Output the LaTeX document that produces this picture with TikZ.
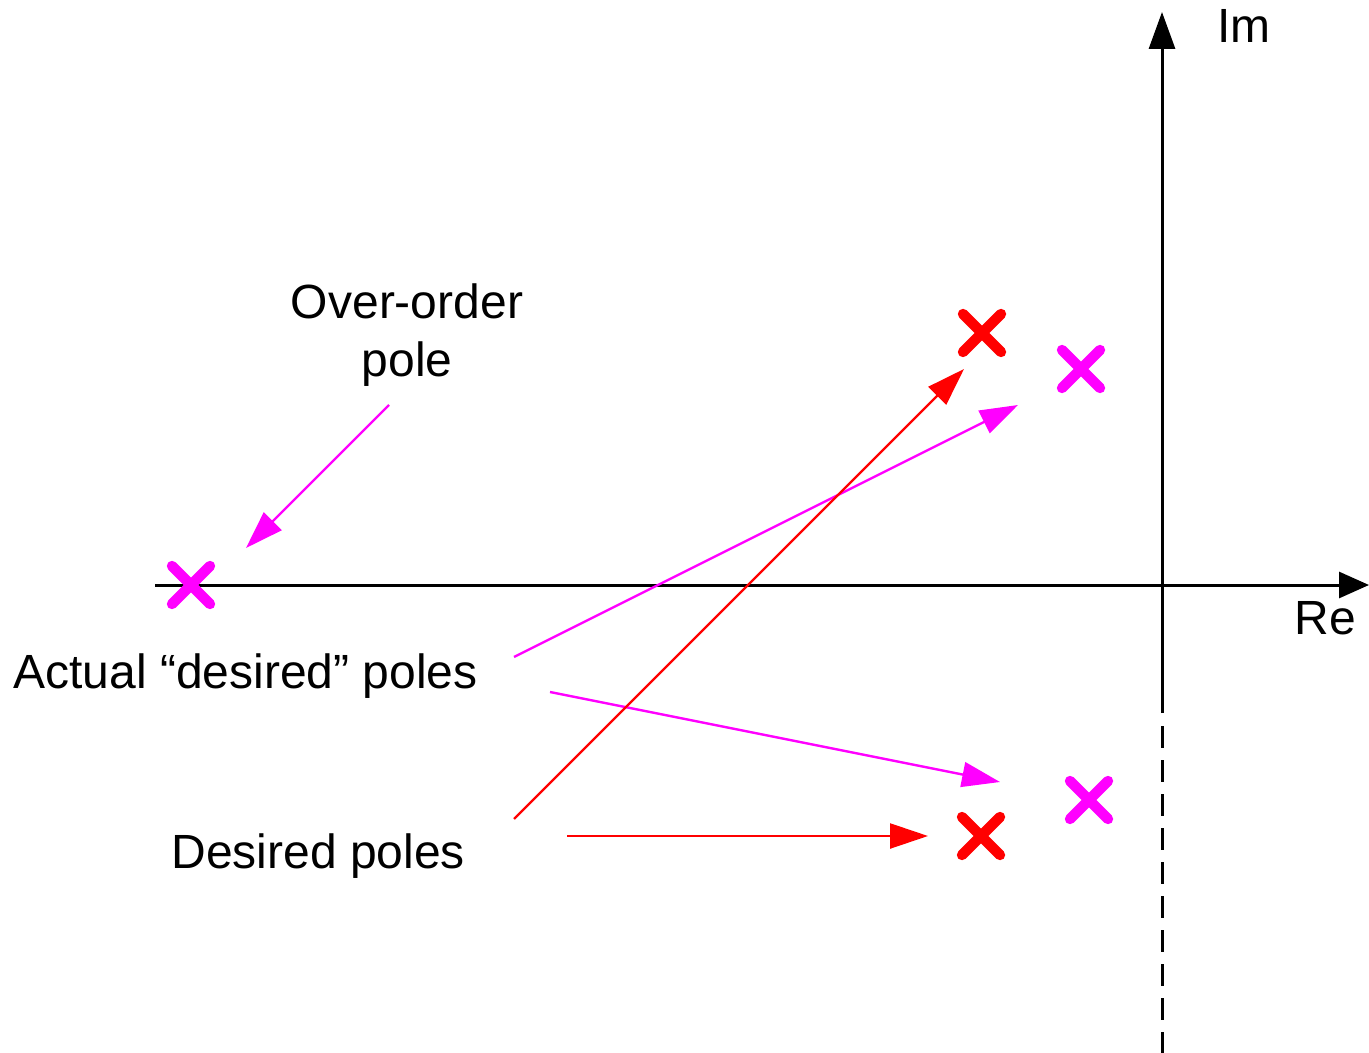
\documentclass[tikz,border=0pt]{standalone}
\usepackage{fontspec}
\setmainfont{Liberation Sans}
\usetikzlibrary{arrows.meta}
\definecolor{mag}{RGB}{255,0,255}
\definecolor{rd}{RGB}{255,0,0}
\tikzset{
  lbl/.style={inner sep=0pt, font=\fontsize{24}{28.8}\selectfont},
  axis/.style={line width=1.5pt, black},
  ptr/.style={line width=1.2pt, -{Triangle[length=19pt,width=12.5pt]}},
  pole/.pic={\draw[line width=5.2pt, line cap=round] (-19,-19)--(19,19) (-19,19)--(19,-19);}
}
\begin{document}
\begin{tikzpicture}[x=0.5pt,y=-0.5pt]
\useasboundingbox (0,0) rectangle (1369,1053);
% axes
\coordinate (reS) at (155,585);
\coordinate (reE) at (1369,585);
\coordinate (imS) at (1162,713);
\coordinate (imE) at (1162,12);
\coordinate (dS) at (1162,726);
\coordinate (dE) at (1162,1053);
\draw[axis, -{Triangle[length=15pt,width=13pt]}] (reS) -- (reE);
\draw[axis, -{Triangle[length=18.5pt,width=13pt]}] (imS) -- (imE);
\draw[axis, dash pattern=on 11pt off 6pt] (dS) -- (dE);
\node[lbl, anchor=base west] (im) at (1217,43) {Im};
\node[lbl, anchor=base west] (re) at (1294,634) {Re};
% poles
\pic[color=mag] (p0) at (191,585) {pole};
\pic[color=rd] (p1) at (982,333) {pole};
\pic[color=mag] (p2) at (1081,369) {pole};
\pic[color=mag] (p3) at (1089,800) {pole};
\pic[color=rd] (p4) at (981,836) {pole};
% labels
\node[lbl, anchor=base] (oo1) at (407,319) {Over-order};
\node[lbl, anchor=base] (oo2) at (407,376) {pole};
\node[lbl, anchor=base west] (act) at (13,688) {Actual “desired” poles};
\node[lbl, anchor=base west] (des) at (171,868) {Desired poles};
% arrow ends
\coordinate (a0s) at (389,405);
\coordinate (a0e) at (246,548);
\coordinate (a1s) at (514,657);
\coordinate (a1e) at (1018,405);
\coordinate (a2s) at (550,692);
\coordinate (a2e) at (1000,782);
\coordinate (a3s) at (514,819);
\coordinate (a3e) at (964,369);
\coordinate (a4s) at (567,836);
\coordinate (a4e) at (928,836);
\draw[ptr, mag] (a0s) -- (a0e);
\draw[ptr, mag] (a1s) -- (a1e);
\draw[ptr, mag] (a2s) -- (a2e);
\draw[ptr, rd] (a3s) -- (a3e);
\draw[ptr, rd] (a4s) -- (a4e);
\end{tikzpicture}
\end{document}
